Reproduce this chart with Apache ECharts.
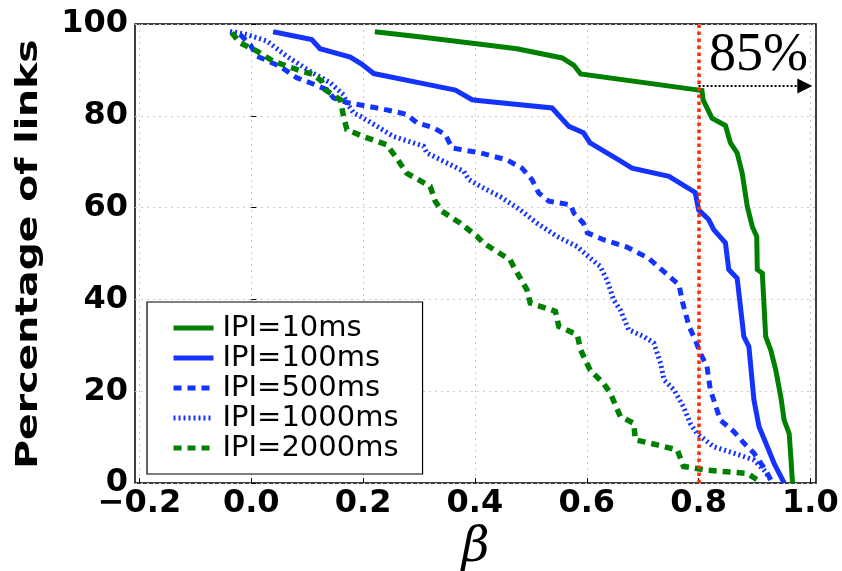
<!DOCTYPE html>
<html>
<head>
<meta charset="utf-8">
<script src="https://cdn.jsdelivr.net/npm/echarts@6/dist/echarts.min.js"></script>
<style>html,body{margin:0;padding:0;background:#fff;}#c{width:842px;height:571px;}</style>
</head>
<body>
<div id="c"></div>
<script>
// ---- data (x = beta, y = percentage of links) ----
var seriesNames = ['IPI=10ms', 'IPI=100ms', 'IPI=500ms', 'IPI=1000ms', 'IPI=2000ms'];
var xTicks = [-0.2, 0.0, 0.2, 0.4, 0.6, 0.8, 1.0];
var yTicks = [0, 20, 40, 60, 80, 100];
var ipi10 = [[0.221,98.3],[0.30,97.2],[0.41,95.6],[0.475,94.6],[0.556,92.6],[0.577,91.0],[0.589,89.1],[0.794,85.7],[0.806,85.5],[0.808,83.5],[0.824,79.5],[0.848,77.9],[0.857,74.1],[0.869,71.9],[0.878,67.5],[0.887,60.3],[0.896,55.9],[0.904,53.7],[0.905,46.5],[0.914,45.7],[0.920,31.9],[0.929,29.0],[0.938,24.6],[0.947,18.8],[0.953,13.7],[0.962,10.8],[0.965,5.7],[0.968,0]];
var ipi100 = [[0.039,98.3],[0.108,96.6],[0.123,94.6],[0.177,92.8],[0.198,91.2],[0.219,89.2],[0.308,87.0],[0.365,85.6],[0.395,83.5],[0.41,83.3],[0.538,81.7],[0.568,77.7],[0.594,76.3],[0.606,74.1],[0.657,70.4],[0.681,68.6],[0.747,66.8],[0.794,63.3],[0.800,59.5],[0.818,57.4],[0.827,55.2],[0.848,52.3],[0.854,46.5],[0.869,44.6],[0.881,31.9],[0.890,29.7],[0.899,18.1],[0.908,12.3],[0.923,7.9],[0.935,4.3],[0.953,0]];
var ipi500 = [[-0.02,97.7],[-0.002,95.5],[0.01,93.0],[0.051,90.8],[0.081,88.3],[0.105,87.2],[0.135,85.7],[0.147,83.9],[0.171,82.9],[0.225,81.7],[0.254,81.0],[0.278,80.3],[0.296,78.5],[0.326,77.4],[0.347,75.9],[0.359,73.0],[0.41,71.9],[0.457,70.4],[0.484,68.6],[0.502,66.1],[0.514,63.2],[0.532,61.4],[0.571,60.6],[0.577,58.8],[0.594,56.6],[0.601,54.5],[0.630,53.0],[0.672,51.4],[0.710,49.0],[0.744,45.4],[0.765,43.2],[0.771,39.5],[0.783,34.1],[0.794,31.2],[0.803,28.3],[0.815,25.4],[0.821,20.3],[0.839,13.7],[0.863,11.2],[0.881,8.7],[0.899,6.5],[0.920,2.8],[0.929,0.7]];
var ipi1000 = [[-0.038,98.4],[-0.008,97.7],[0.028,96.3],[0.063,93.0],[0.105,89.7],[0.141,87.2],[0.165,84.6],[0.171,82.8],[0.183,80.6],[0.195,79.9],[0.225,77.7],[0.254,75.5],[0.308,73.4],[0.314,71.9],[0.380,67.9],[0.389,66.1],[0.41,64.6],[0.445,62.4],[0.481,59.5],[0.511,56.6],[0.547,53.7],[0.583,51.5],[0.606,49.0],[0.624,47.2],[0.636,44.3],[0.648,39.9],[0.660,37.7],[0.675,33.4],[0.702,31.9],[0.720,30.5],[0.732,26.1],[0.738,22.5],[0.756,20.3],[0.773,16.6],[0.785,13.0],[0.797,10.8],[0.827,7.9],[0.863,6.5],[0.899,5.0],[0.917,2.8],[0.929,0.7]];
var ipi2000 = [[-0.035,98.1],[-0.02,95.9],[0.01,94.1],[0.039,91.9],[0.081,90.1],[0.111,89.0],[0.126,87.5],[0.132,85.7],[0.159,83.5],[0.165,79.9],[0.171,77.0],[0.2,75.5],[0.242,73.7],[0.260,70.8],[0.278,67.5],[0.320,64.6],[0.329,61.4],[0.341,59.2],[0.374,56.6],[0.404,53.7],[0.415,52.3],[0.463,48.6],[0.469,47.2],[0.493,42.1],[0.499,39.2],[0.544,37.4],[0.550,34.1],[0.583,32.3],[0.589,29.0],[0.606,24.6],[0.630,21.7],[0.642,19.6],[0.660,14.5],[0.684,13.0],[0.687,9.4],[0.726,8.3],[0.762,7.2],[0.773,3.6],[0.815,2.8],[0.887,2.1],[0.905,0.7]];
var thresholdX = 0.8;
var arrowY = 86.5;
var arrowEndX = 0.99;
var annotText = '85%';
var annotPos = [0.907, 93.0];
var yTitle = 'Percentage of links';
var xTitle = 'β';

var GREEN = '#008000', BLUE = '#1433ff';
function lineSeries(name, data, color, width, type) {
  return {
    name: name, type: 'line', data: data, symbol: 'none', showSymbol: false,
    lineStyle: { color: color, width: width, type: type, cap: 'butt', join: 'miter' },
    itemStyle: { color: color }, z: 3, silent: true
  };
}
var chart = echarts.init(document.getElementById('c'), null, { renderer: 'canvas' });
var tickFont = { fontFamily: 'DejaVu Sans', fontWeight: 'bold', fontSize: 32, color: '#000' };
chart.setOption({
  animation: false,
  backgroundColor: '#fff',
  grid: { left: 135, right: 26, top: 24, bottom: 88, outerBoundsMode: 'none', containLabel: false,
          show: true, borderColor: '#000', borderWidth: 1.5, backgroundColor: 'transparent' },
  graphic: [{
    type: 'text', x: 29, y: 254, rotation: Math.PI / 2, scaleX: 1.27, scaleY: 1,
    style: { text: yTitle, fontFamily: 'DejaVu Sans', fontWeight: 'bold', fontSize: 31, fill: '#000', align: 'center', verticalAlign: 'middle' }
  }],
  xAxis: {
    type: 'value', min: -0.208, max: 1.01,
    name: xTitle, nameLocation: 'middle', nameGap: 36,
    nameTextStyle: { fontFamily: 'DejaVu Serif', fontStyle: 'italic', fontSize: 48, color: '#000' },
    axisLine: { show: false },
    axisTick: { show: true, inside: true, length: 5, customValues: xTicks, lineStyle: { color: '#000', width: 1 } },
    axisLabel: Object.assign({ customValues: xTicks, margin: 5, formatter: function (v) { return v.toFixed(1).replace('-', '\u2212'); } }, tickFont),
    splitLine: { show: true, lineStyle: { color: '#c8c8c8', width: 1, type: [2, 4] } }
  },
  yAxis: {
    type: 'value', min: 0, max: 100, interval: 20,
    axisLine: { show: false },
    axisTick: { show: true, inside: true, length: 5, lineStyle: { color: '#000', width: 1 } },
    axisLabel: Object.assign({ margin: 7 }, tickFont),
    splitLine: { show: true, lineStyle: { color: '#c8c8c8', width: 1, type: [2, 4] } }
  },
  legend: {
    data: seriesNames, orient: 'vertical', left: 147, top: 302,
    padding: [11, 24, 11, 24], itemGap: 0, itemWidth: 40, itemHeight: 14,
    itemStyle: { opacity: 0 },
    lineStyle: { width: 5 },
    backgroundColor: '#fff', borderColor: '#000', borderWidth: 1.2, borderRadius: 0,
    textStyle: { fontFamily: 'DejaVu Sans', fontSize: 29, color: '#000', lineHeight: 30, padding: [0, 0, 0, 4] },
    selectedMode: false
  },
  series: [
    lineSeries(seriesNames[0], ipi10, GREEN, 5, 'solid'),
    lineSeries(seriesNames[1], ipi100, BLUE, 5, 'solid'),
    lineSeries(seriesNames[2], ipi500, BLUE, 5, [8, 6]),
    lineSeries(seriesNames[3], ipi1000, BLUE, 5, [2, 3]),
    lineSeries(seriesNames[4], ipi2000, GREEN, 5.5, [8, 6]),
    {
      name: 'threshold', type: 'line', data: [], silent: true, z: 4,
      markLine: {
        silent: true, symbol: ['none', 'none'], label: { show: false },
        lineStyle: { color: '#ff2a00', width: 3.5, type: [3.5, 3.5], opacity: 1 },
        emphasis: { disabled: true },
        data: [{ xAxis: thresholdX }]
      }
    },
    {
      name: 'arrow', type: 'line', data: [], silent: true, z: 5,
      markLine: {
        silent: true, symbol: ['none', 'triangle'], symbolSize: [15, 15], label: { show: false },
        lineStyle: { color: '#000', width: 2, type: [2, 2], opacity: 1 }, itemStyle: { color: '#000' },
        emphasis: { disabled: true },
        data: [[{ coord: [thresholdX, arrowY] }, { coord: [arrowEndX, arrowY] }]]
      },
      markPoint: {
        silent: true, symbol: 'circle', symbolSize: 1, itemStyle: { color: 'rgba(0,0,0,0)' },
        label: { show: true, position: 'inside', formatter: annotText, fontFamily: 'Liberation Serif', fontSize: 54, color: '#000' },
        data: [{ coord: annotPos }]
      }
    }
  ]
});
</script>
</body>
</html>
